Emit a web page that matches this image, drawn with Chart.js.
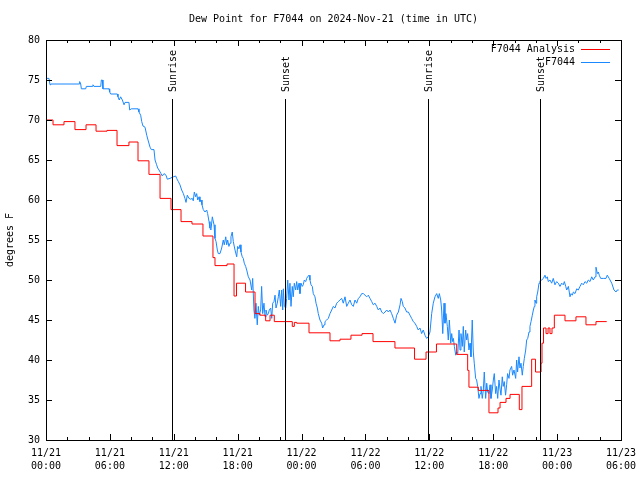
<!DOCTYPE html>
<html>
<head>
<meta charset="utf-8">
<script src="https://cdn.jsdelivr.net/npm/chart.js@4.4.1/dist/chart.umd.min.js"></script>
<style>
  html, body { margin: 0; padding: 0; background: #fff; }
</style>
</head>
<body>
<canvas id="dewpt" width="640" height="480"></canvas>
<script>
// hours since 11/21 00:00 UTC
const analysisHours = [
  0.00, 0.66, 1.69, 2.72, 3.76, 4.70, 5.73, 6.67, 7.79, 8.64,
  9.67, 10.71, 11.74, 12.68, 13.71, 14.74, 15.68, 15.87, 17.00, 17.66,
  17.89, 18.74, 19.63, 20.10, 20.63, 21.04, 21.44, 23.13, 23.32, 23.54,
  24.70, 26.67, 27.61, 28.64, 29.68, 30.71, 32.77, 34.61, 35.69, 36.67,
  38.57, 39.60, 39.72, 40.60, 41.60, 42.45, 42.64, 43.20, 43.58, 44.45,
  44.70, 45.61, 45.97, 46.49, 46.58, 46.72, 46.96, 47.15, 47.33, 47.52,
  47.74, 48.74, 49.77, 50.71, 51.65, 52.66
];
const analysisDewpt = [
  70.0, 69.4, 69.8, 68.8, 69.4, 68.6, 68.7, 66.8, 67.25, 64.9,
  63.2, 60.2, 58.8, 57.3, 57.0, 55.5, 52.8, 51.8, 52.0, 48.0,
  49.6, 48.5, 45.8, 45.6, 44.9, 45.6, 44.8, 44.2, 44.7, 44.6,
  43.4, 42.4, 42.6, 43.1, 43.3, 42.3, 41.5, 40.1, 41.0, 42.0,
  40.7, 38.7, 36.6, 36.2, 33.4, 34.0, 34.7, 35.2, 35.7, 33.8,
  36.7, 40.1, 38.5, 39.6, 42.1, 44.0, 43.3, 44.0, 43.3, 44.0,
  45.6, 44.9, 45.4, 44.4, 44.8, 44.8
];

const obsHours = [
  0.07, 0.28, 0.38, 0.44, 3.10, 3.16, 3.26, 3.32, 3.73, 3.79,
  4.35, 4.41, 4.51, 5.14, 5.20, 5.29, 5.35, 5.92, 5.98, 6.07,
  6.70, 6.76, 6.88, 7.01, 7.17, 7.33, 7.42, 7.79, 7.86, 8.01,
  8.64, 8.73, 8.89, 8.99, 9.11, 9.30, 9.46, 9.58, 9.77, 9.89,
  10.14,
  10.24, 10.39, 10.49, 10.61, 10.80, 10.92, 11.08, 11.27, 11.39, 11.64,
  11.96, 12.18, 12.27, 12.43, 12.58, 12.74, 12.90, 13.05, 13.15, 13.27,
  13.43, 13.59, 13.74, 13.83, 13.93, 14.06, 14.15, 14.25, 14.37, 14.46,
  14.56, 14.65, 14.77, 14.93, 15.09, 15.18, 15.31, 15.40, 15.49, 15.62,
  15.78, 15.87, 15.97, 16.09, 16.18, 16.34, 16.50, 16.65, 16.74, 16.88,
  16.97, 17.06, 17.18, 17.28, 17.37, 17.49, 17.59, 17.75, 17.91, 18.00,
  18.12, 18.22, 18.31, 18.43, 18.53, 18.62, 18.75, 18.85,
  19.00, 19.16, 19.32, 19.41, 19.53, 19.62, 19.72, 19.84, 19.94, 20.03,
  20.16, 20.25, 20.35, 20.47, 20.57, 20.66, 20.78, 20.88, 20.97, 21.10,
  21.20, 21.29, 21.41, 21.51, 21.60, 21.72, 21.82, 21.91, 22.04, 22.13,
  22.23, 22.29, 22.38, 22.51, 22.60, 22.70, 22.82, 22.91, 23.01, 23.13,
  23.22, 23.32, 23.45, 23.54, 23.64, 23.76, 23.85, 23.95, 24.07, 24.16,
  24.26, 24.39, 24.48, 24.57, 24.70, 24.79, 24.89, 25.01, 25.10, 25.26,
  25.36, 25.48, 25.57, 25.73, 25.89, 25.98, 26.11, 26.20, 26.36, 26.51,
  26.67, 26.83, 26.98, 27.14, 27.30, 27.45, 27.61,
  27.77, 27.92, 28.08, 28.24, 28.39, 28.55, 28.71, 28.86, 29.02, 29.18,
  29.33, 29.49, 29.65, 29.80, 29.96, 30.12, 30.27, 30.43, 30.59, 30.74,
  30.90, 31.06, 31.21, 31.37, 31.53, 31.68, 31.84, 32.00, 32.15, 32.31,
  32.46, 32.62, 32.78, 32.93, 33.09, 33.25, 33.34, 33.46, 33.55, 33.71,
  33.87, 34.03, 34.18, 34.34, 34.49, 34.65, 34.81, 34.96, 35.12, 35.28,
  35.43, 35.59, 35.75, 35.90, 36.06, 36.22, 36.37, 36.53, 36.69,
  36.84, 36.94, 37.07, 37.16, 37.26, 37.38, 37.47, 37.56, 37.69, 37.78,
  37.88, 38.01, 38.10, 38.19, 38.26, 38.35, 38.48, 38.57, 38.67, 38.79,
  38.88, 38.97, 39.10, 39.19, 39.28, 39.41, 39.51, 39.60, 39.72, 39.82,
  39.91, 40.03, 40.13, 40.22, 40.35, 40.44, 40.54, 40.66, 40.76, 40.85,
  40.97, 41.07, 41.16, 41.29, 41.39, 41.48, 41.60, 41.70, 41.79, 41.91,
  42.01, 42.10, 42.23, 42.32, 42.42, 42.54, 42.63, 42.73, 42.85, 42.94,
  43.04, 43.16, 43.26, 43.35, 43.48, 43.57,
  43.73, 43.82, 43.95, 44.11, 44.20, 44.29, 44.42, 44.51, 44.61, 44.73,
  44.82, 44.92, 45.05, 45.14, 45.24, 45.36, 45.45, 45.55, 45.67, 45.77,
  45.86, 45.92, 46.02, 46.08, 46.18, 46.30, 46.39, 46.55, 46.71, 46.86,
  46.96, 47.08, 47.17, 47.33, 47.49, 47.64, 47.80, 47.96, 48.11, 48.27,
  48.43, 48.58, 48.68, 48.81, 48.90, 49.06, 49.21, 49.31, 49.43, 49.53,
  49.68, 49.84, 49.99, 50.15, 50.31, 50.46, 50.62, 50.78, 50.93, 51.09,
  51.25, 51.40, 51.56, 51.65, 51.78, 51.87, 51.96, 52.09, 52.34, 52.59,
  52.71, 52.89, 53.13, 53.34, 53.53, 53.65, 53.78
];
const obsDewpt = [
  75.2, 75.2, 74.4, 74.5, 74.5, 74.8, 74.5, 73.9, 73.9, 74.2,
  74.2, 74.4, 74.2, 74.2, 75.0, 75.0, 73.9, 73.9, 73.5, 73.25,
  73.25, 72.9, 72.5, 72.9, 72.5, 71.9, 72.2, 72.2, 71.25, 71.4,
  71.4, 71.0, 70.6, 69.8, 69.25, 69.1, 68.1, 67.5, 66.6, 66.3,
  66.3,
  65.0, 64.4, 64.0, 63.75, 63.3, 63.0, 63.3, 63.1, 62.6, 62.7,
  62.9, 63.0, 62.7, 62.3, 61.9, 61.25, 60.8, 60.2, 59.7, 60.6,
  60.2, 60.1, 60.2, 59.9, 61.0, 60.4, 60.8, 60.0, 60.4, 59.8,
  60.0, 59.4, 58.8, 58.5, 58.75, 58.3, 57.3, 56.5, 56.25, 57.9,
  56.9, 55.2, 54.8, 53.75, 53.3, 53.3, 54.0, 55.0, 54.4, 55.4,
  54.4, 55.0, 54.2, 54.6, 55.4, 56.0, 54.8, 53.75, 52.9, 54.2,
  53.9, 54.4, 53.5, 52.9, 52.7, 52.1, 51.7, 51.25,
  50.4, 50.0, 48.75, 50.2, 46.25, 45.2, 47.1, 44.4, 46.7, 45.6,
  46.25, 49.2, 45.8, 47.1, 45.4, 46.25, 45.6, 45.8, 46.25, 46.5,
  45.2, 47.1, 47.3, 48.1, 46.5, 47.1, 47.9, 48.75, 46.7, 48.75,
  46.25, 48.9, 46.7, 46.5, 47.7, 50.0, 47.5, 49.6, 46.7, 49.2,
  47.9, 49.6, 48.75, 49.8, 48.75, 49.6, 48.3, 49.6, 49.2, 49.4,
  50.0, 49.8, 50.2, 50.4, 50.6, 50.0, 49.4, 49.2, 48.3, 47.9,
  47.1, 46.5, 45.8, 45.0, 44.6, 44.0, 44.4, 44.8, 45.0, 45.2,
  45.8, 46.25, 46.7, 46.5, 47.1, 47.3, 47.5,
  47.7, 47.1, 47.9, 46.7, 47.1, 47.5, 46.9, 46.7, 47.5, 47.1,
  47.7, 47.9, 48.3, 48.3, 48.1, 47.9, 48.1, 47.7, 47.3, 46.9,
  47.1, 46.7, 46.25, 46.5, 46.0, 45.8, 46.0, 46.25, 46.0, 46.25,
  45.8, 45.2, 44.6, 45.6, 46.0, 46.9, 47.7, 47.3, 46.7, 46.5,
  46.0, 46.0, 45.6, 45.2, 44.8, 44.6, 44.2, 43.75, 44.0, 43.3,
  43.75, 43.1, 42.7, 42.9, 43.5, 45.8, 47.1, 47.9, 48.3,
  47.7, 48.3, 47.5, 46.25, 43.3, 47.1, 44.6, 45.8, 44.2, 42.5,
  45.0, 42.1, 43.3, 42.3, 42.7, 41.7, 40.6, 41.0, 40.8, 43.75,
  41.25, 43.3, 41.7, 44.2, 41.0, 43.75, 42.5, 43.3, 41.25, 42.1,
  40.4, 45.0, 41.0, 39.6, 37.7, 37.5, 36.7, 35.2, 35.8, 36.7,
  35.2, 36.25, 38.5, 35.2, 37.1, 36.0, 35.8, 36.9, 35.2, 36.25,
  37.5, 38.3, 35.8, 36.7, 35.2, 37.5, 36.5, 35.6, 37.9, 36.7,
  37.3, 35.6, 36.9, 38.3, 37.7, 38.75,
  39.2, 38.1, 38.75, 37.7, 40.0, 38.5, 40.4, 39.0, 39.6, 38.1,
  39.2, 40.2, 41.25, 42.5, 42.7, 43.5, 44.2, 44.8, 45.6, 46.25,
  46.7, 47.5, 47.1, 47.9, 48.5, 49.6, 49.9, 50.0, 50.2, 50.6,
  50.2, 50.4, 49.8, 50.0, 49.6, 50.2, 49.4, 49.8, 49.6, 49.2,
  49.6, 49.4, 49.8, 49.2, 48.75, 49.2, 47.9, 48.3, 48.1, 48.5,
  48.3, 48.9, 48.75, 49.2, 49.6, 49.4, 49.8, 49.6, 50.0, 49.8,
  50.4, 50.0, 50.4, 51.6, 50.8, 51.0, 50.6, 50.2, 50.2, 50.2,
  50.6, 50.2, 49.6, 48.75, 48.5, 48.75, 48.75
];

const sunHours = [11.87, 22.47, 35.91, 46.43];
const sunLabels = ["Sunrise", "Sunset", "Sunrise", "Sunset"];
const seriesNames = ["F7044 Analysis", "F7044"];
const seriesColors = ["#ff0000", "#1a88ff"];

const FONT = "10px 'DejaVu Sans Mono', monospace";

function hourLabel(h) {
  const day = 21 + Math.floor(h / 24);
  const hh = String(h % 24).padStart(2, "0");
  return ["11/" + day, hh + ":00"];
}

// gnuplot-style frame: inward ticks, sun lines, title, legend
const gnuplotFrame = {
  id: "gnuplotFrame",
  afterDatasetsDraw(chart) {
    const { ctx, chartArea: a, scales } = chart;
    const x = scales.x, y = scales.y;
    ctx.save();
    ctx.strokeStyle = "#000";
    ctx.fillStyle = "#000";
    ctx.lineWidth = 1;
    ctx.font = FONT;

    // sunrise / sunset markers
    sunHours.forEach((h, i) => {
      const px = Math.round(x.getPixelForValue(h)) + 0.5;
      ctx.beginPath();
      ctx.moveTo(px, 99);
      ctx.lineTo(px, a.bottom);
      ctx.stroke();
      ctx.save();
      ctx.translate(px + 1, 92);
      ctx.rotate(-Math.PI / 2);
      ctx.textAlign = "left";
      ctx.textBaseline = "middle";
      ctx.fillText(sunLabels[i], 0, 0);
      ctx.restore();
    });

    // border
    ctx.strokeRect(a.left + 0.5, a.top + 0.5, a.right - a.left, a.bottom - a.top);

    // y ticks (left and right, pointing inward)
    for (let v = y.min; v <= y.max; v += 5) {
      const py = Math.round(y.getPixelForValue(v)) + 0.5;
      ctx.beginPath();
      ctx.moveTo(a.left, py); ctx.lineTo(a.left + 6, py);
      ctx.moveTo(a.right, py); ctx.lineTo(a.right - 6, py);
      ctx.stroke();
    }
    // x ticks every 2 h, longer at 6 h
    for (let h = x.min; h <= x.max; h += 2) {
      const px = Math.round(x.getPixelForValue(h)) + 0.5;
      const len = h % 6 === 0 ? 6 : 3;
      ctx.beginPath();
      ctx.moveTo(px, a.bottom); ctx.lineTo(px, a.bottom - len);
      ctx.moveTo(px, a.top); ctx.lineTo(px, a.top + len);
      ctx.stroke();
    }

    // title
    ctx.textAlign = "center";
    ctx.textBaseline = "middle";
    ctx.fillText("Dew Point for F7044 on 2024-Nov-21 (time in UTC)", (a.left + a.right) / 2, 19);

    // y axis label
    ctx.save();
    ctx.translate(10, (a.top + a.bottom) / 2);
    ctx.rotate(-Math.PI / 2);
    ctx.fillText("degrees F", 0, 0);
    ctx.restore();

    // legend
    ctx.textAlign = "right";
    seriesNames.forEach((name, i) => {
      const ly = 49 + i * 13;
      ctx.fillStyle = "#000";
      ctx.fillText(name, 575, ly);
      ctx.strokeStyle = seriesColors[i];
      ctx.beginPath();
      ctx.moveTo(581, Math.round(ly) + 0.5);
      ctx.lineTo(610, Math.round(ly) + 0.5);
      ctx.stroke();
    });
    ctx.restore();
  }
};

const ctx = document.getElementById("dewpt").getContext("2d");
new Chart(ctx, {
  type: "line",
  data: {
    datasets: [
      {
        label: seriesNames[0],
        data: analysisHours.map((h, i) => ({ x: h, y: analysisDewpt[i] })),
        borderColor: seriesColors[0],
        borderWidth: 1,
        pointRadius: 0,
        stepped: true,
        fill: false,
      },
      {
        label: seriesNames[1],
        data: obsHours.map((h, i) => ({ x: h, y: obsDewpt[i] })),
        borderColor: seriesColors[1],
        borderWidth: 1,
        pointRadius: 0,
        tension: 0,
        fill: false,
      },
    ],
  },
  options: {
    responsive: false,
    animation: false,
    devicePixelRatio: 1,
    layout: { padding: { left: 0, right: 19, top: 40, bottom: 0 } },
    plugins: {
      legend: { display: false },
      title: { display: false },
      tooltip: { enabled: false },
    },
    scales: {
      x: {
        type: "linear",
        min: 0,
        max: 54,
        grid: { display: false, drawTicks: false },
        border: { display: false },
        ticks: {
          stepSize: 6,
          autoSkip: false,
          maxRotation: 0,
          padding: 7,
          color: "#000",
          font: { family: "'DejaVu Sans Mono', monospace", size: 10, lineHeight: 1.3 },
          callback: (v) => hourLabel(v),
        },
        afterFit: (s) => { s.height = 40; s.paddingLeft = 0; s.paddingRight = 0; },
      },
      y: {
        min: 30,
        max: 80,
        grid: { display: false, drawTicks: false },
        border: { display: false },
        ticks: {
          stepSize: 5,
          padding: 6,
          color: "#000",
          font: { family: "'DejaVu Sans Mono', monospace", size: 10 },
        },
        afterFit: (s) => { s.width = 46; s.paddingTop = 0; s.paddingBottom = 0; },
      },
    },
  },
  plugins: [gnuplotFrame],
});
</script>
</body>
</html>
